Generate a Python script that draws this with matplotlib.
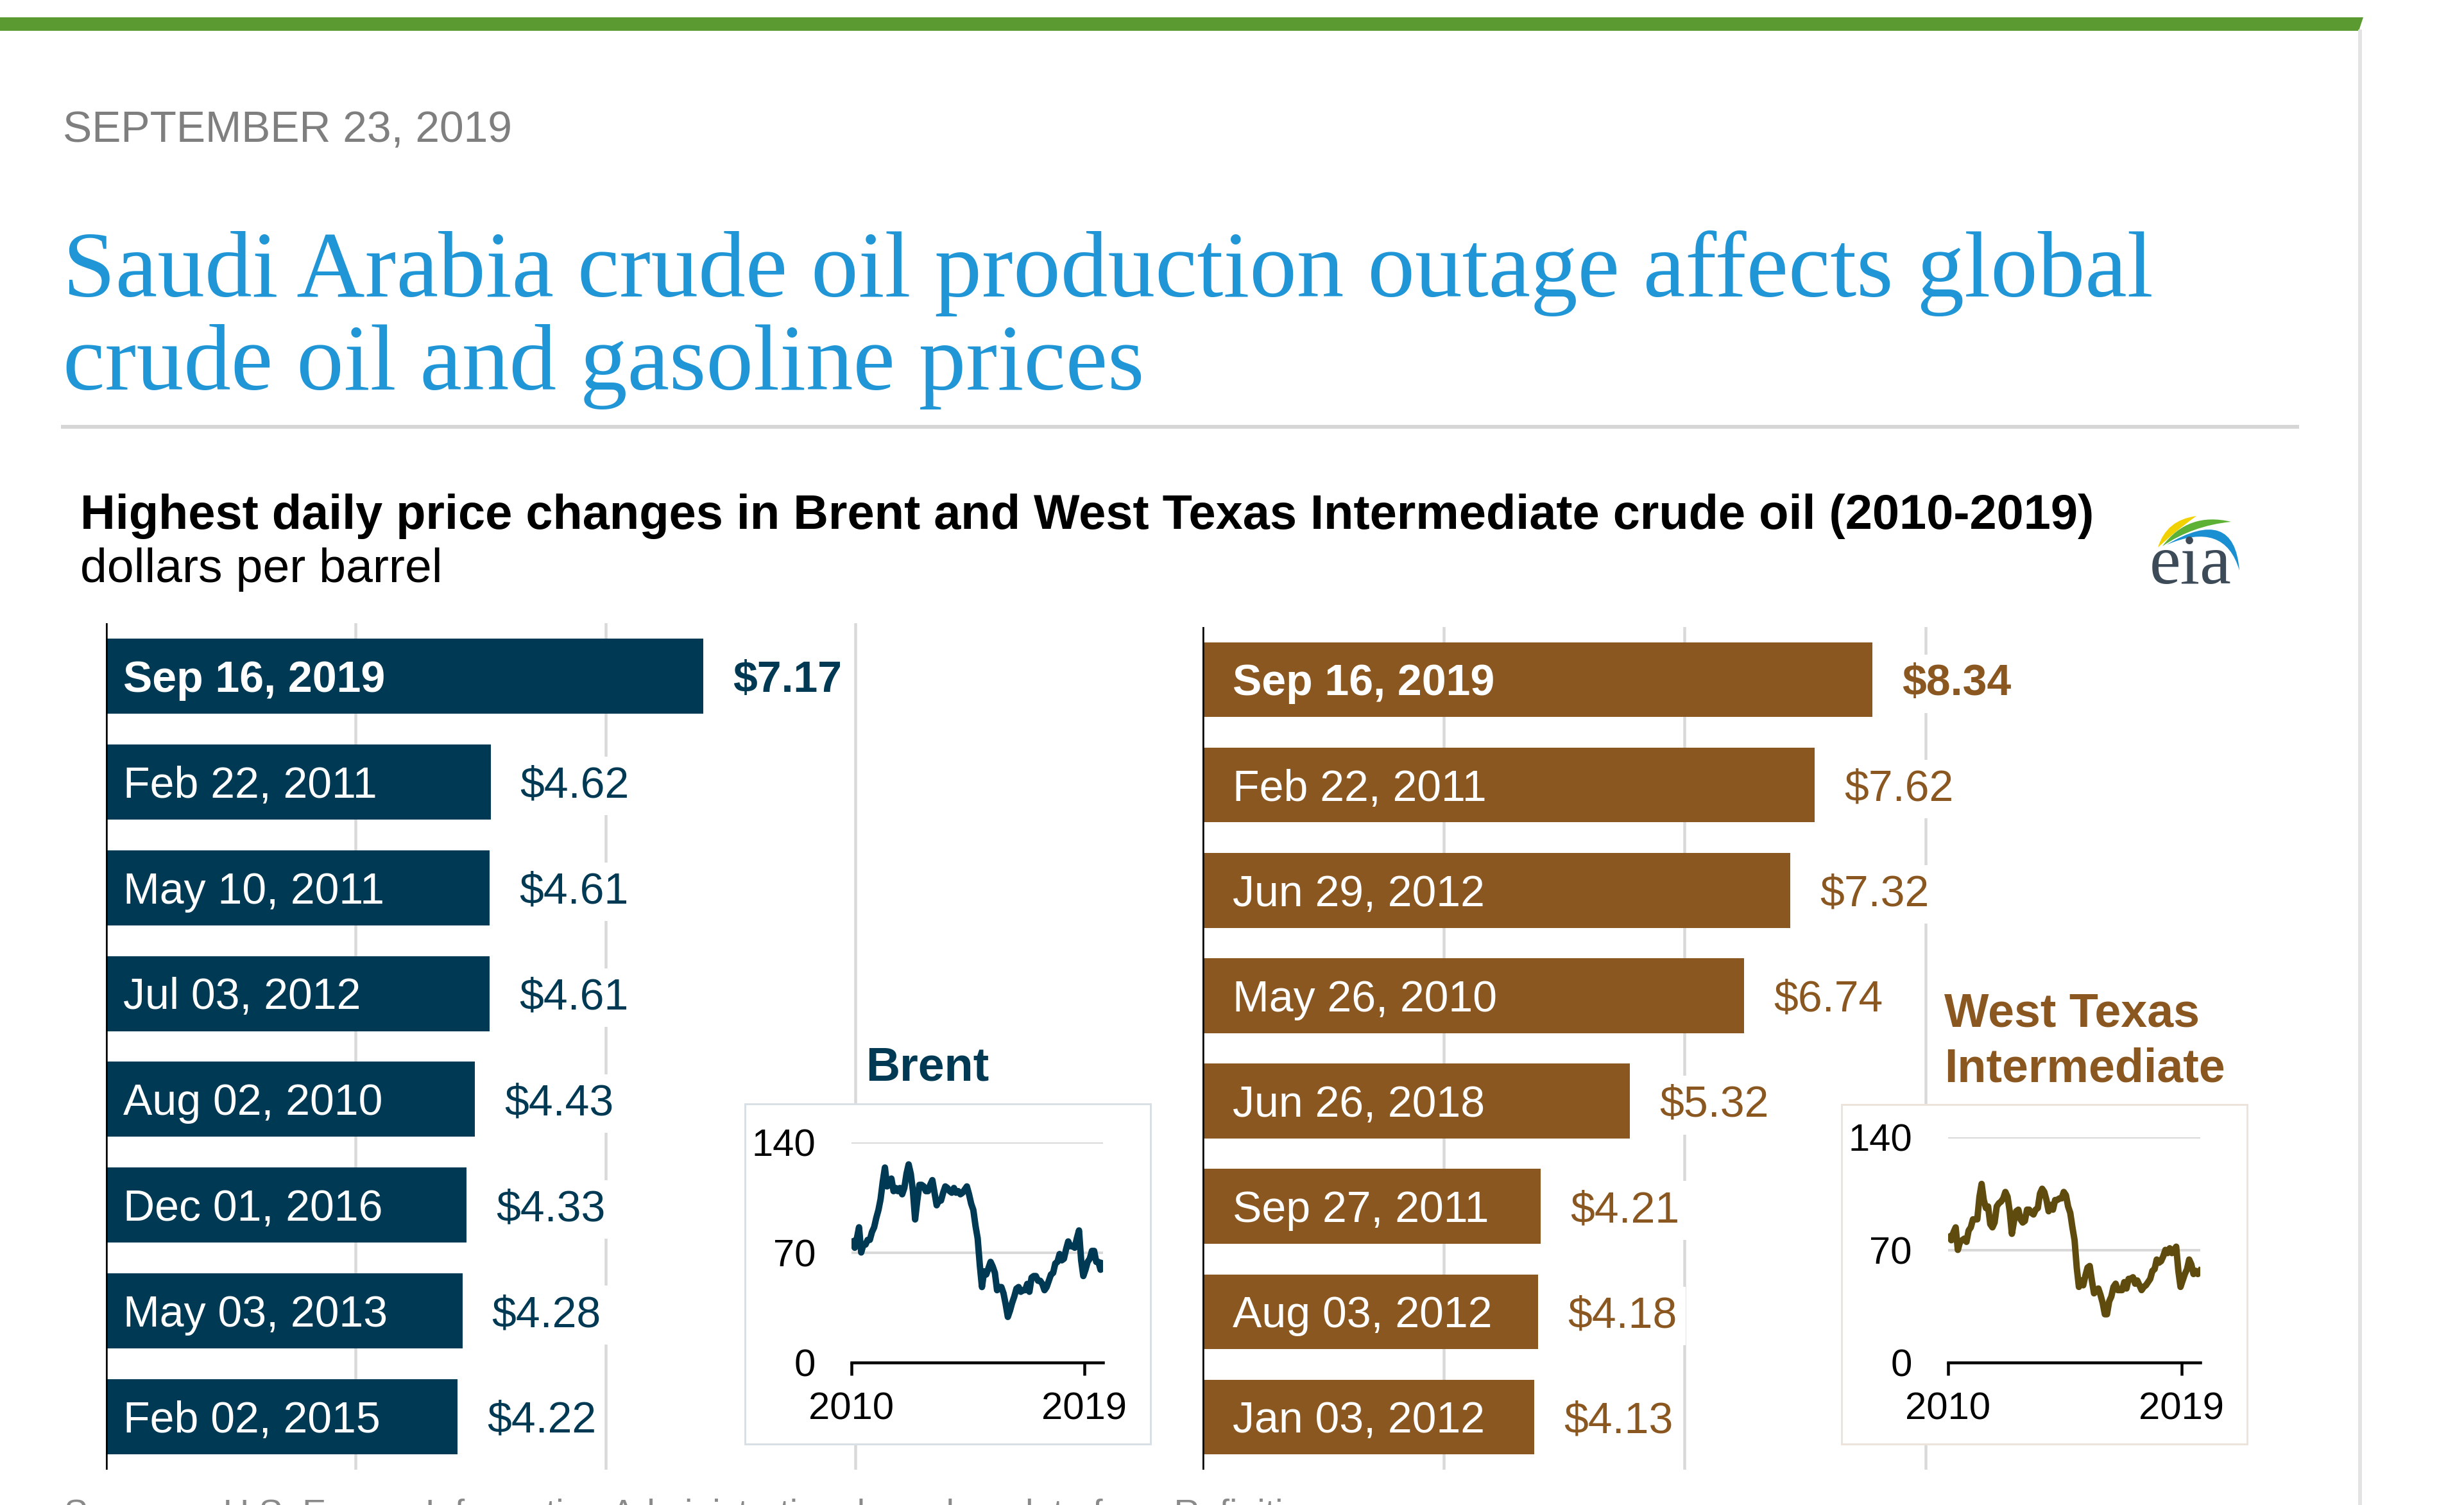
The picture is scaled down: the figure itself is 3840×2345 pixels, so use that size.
import matplotlib
matplotlib.use("Agg")
import matplotlib.pyplot as plt
from matplotlib.patches import Polygon, Rectangle, PathPatch
from matplotlib.path import Path

# ---------------- data ----------------
brent_dates = ["Sep 16, 2019", "Feb 22, 2011", "May 10, 2011", "Jul 03, 2012",
               "Aug 02, 2010", "Dec 01, 2016", "May 03, 2013", "Feb 02, 2015"]
brent_changes = [7.17, 4.62, 4.61, 4.61, 4.43, 4.33, 4.28, 4.22]

wti_dates = ["Sep 16, 2019", "Feb 22, 2011", "Jun 29, 2012", "May 26, 2010",
             "Jun 26, 2018", "Sep 27, 2011", "Aug 03, 2012", "Jan 03, 2012"]
wti_changes = [8.34, 7.62, 7.32, 6.74, 5.32, 4.21, 4.18, 4.13]

grid_values = [3, 6, 9]

# monthly spot prices, Jan 2010 - Sep 2019 (dollars per barrel)
brent_prices = [
    77, 73, 79, 86, 70, 75, 75, 78, 78, 83, 86, 92,
    97, 104, 115, 124, 112, 113, 117, 109, 111, 109, 111, 107,
    111, 120, 126, 120, 109, 91, 103, 113, 113, 112, 109, 109,
    113, 116, 108, 100, 103, 103, 108, 112, 111, 109, 108, 111,
    108, 109, 107, 108, 110, 112, 107, 101, 97, 87, 79, 62,
    48, 58, 56, 60, 64, 61, 57, 46, 48, 48, 44, 37,
    29, 33, 38, 42, 47, 48, 45, 46, 46, 50, 45, 54,
    55, 55, 52, 52, 50, 46, 48, 52, 56, 57, 63, 64,
    69, 65, 66, 72, 77, 74, 74, 73, 79, 84, 65, 55,
    59, 64, 66, 71, 71, 64, 64, 59, 63,
]
wti_prices = [
    78, 76, 81, 84, 70, 75, 76, 77, 75, 82, 84, 89,
    89, 89, 103, 111, 101, 96, 97, 86, 84, 87, 97, 99,
    100, 102, 106, 103, 94, 80, 88, 94, 95, 89, 87, 88,
    95, 95, 93, 92, 95, 96, 105, 108, 106, 101, 94, 98,
    95, 101, 101, 102, 102, 106, 104, 97, 93, 84, 76, 59,
    47, 51, 48, 54, 59, 60, 51, 43, 45, 46, 42, 37,
    30, 30, 38, 41, 47, 49, 45, 45, 45, 50, 46, 52,
    52, 53, 49, 51, 48, 45, 47, 48, 50, 52, 57, 58,
    64, 62, 63, 66, 70, 68, 71, 68, 70, 72, 57, 47,
    51, 55, 58, 64, 61, 55, 57, 55, 57,
]
start_year = 2010
inset_yticks = [0, 70, 140]
inset_xticks = [2010, 2019]

# ---------------- styling ----------------
W, H, DPI = 3840, 2345, 100
PT = 72.0 / DPI  # points per pixel
NAVY = "#003953"
BROWN = "#8b5720"
WTI_LINE = "#5f4b0e"
GRID = "#d9d9d9"
SANS = "Liberation Sans"
SERIF = "Liberation Serif"
plt.rcParams["font.family"] = [SANS, "DejaVu Sans"]

fig = plt.figure(figsize=(W / DPI, H / DPI), dpi=DPI)
fig.patch.set_facecolor("white")


def px_axes(x0, y0, x1, y1):
    return fig.add_axes([x0 / W, 1 - y1 / H, (x1 - x0) / W, (y1 - y0) / H])


# ---------------- page canvas (pixel coordinates) ----------------
cv = px_axes(0, 0, W, H)
cv.set_xlim(0, W)
cv.set_ylim(H, 0)
cv.axis("off")

cv.add_patch(Polygon([(0, 27), (3683, 27), (3676, 48), (0, 48)], closed=True,
                     facecolor="#5b9a31", edgecolor="none"))
cv.add_patch(Rectangle((3675, 46), 6, H - 46, facecolor="#e3e3e3", edgecolor="none"))
cv.add_patch(Rectangle((95, 662), 3488, 6, facecolor="#d6d6d6", edgecolor="none"))

cv.text(98, 221, "SEPTEMBER 23, 2019", fontsize=48.8, color="#7f7f7f",
        family=SANS, va="baseline", ha="left")
cv.text(98, 462, "Saudi Arabia crude oil production outage affects global",
        fontsize=106, color="#2196d6", family=SERIF, va="baseline", ha="left")
cv.text(98, 607, "crude oil and gasoline prices",
        fontsize=106, color="#2196d6", family=SERIF, va="baseline", ha="left")

cv.text(125, 824, "Highest daily price changes in Brent and West Texas Intermediate crude oil (2010-2019)",
        fontsize=54.5, fontweight="bold", color="black", va="baseline", ha="left")
cv.text(125, 907, "dollars per barrel", fontsize=54.2, color="black", va="baseline", ha="left")

# eia logo
def crescent(a, b, c_out, c_in, color):
    verts = [a, c_out, b, c_in, a, a]
    codes = [Path.MOVETO, Path.CURVE3, Path.CURVE3, Path.CURVE3, Path.CURVE3, Path.CLOSEPOLY]
    cv.add_patch(PathPatch(Path(verts, codes), facecolor=color, edgecolor="none"))

crescent((3363, 853), (3423, 804), (3376, 810), (3392, 826), "#f2d100")
crescent((3370, 851), (3477, 813), (3410, 797), (3417, 819), "#5db135")
crescent((3376, 849), (3490, 889), (3482, 786), (3467, 810), "#1a8fd1")
cv.text(3350, 909, "eia", fontsize=79, family=SERIF, color="#3d4b58", va="baseline", ha="left")

# source (cut by the bottom edge, as in the original)
cv.text(100, 2335, "Source:", fontsize=40, color="#8a8a8a", va="top", ha="left")
cv.text(348, 2335, "U.S. Energy Information Administration, based on data from Refinitiv",
        fontsize=40, color="#8a8a8a", va="top", ha="left")

# ---------------- bar panels ----------------
LABEL_FS = 49
CAP_OFF = 0.716 * LABEL_FS / 2.0  # half cap height in points


def bar_panel(x_axis, y_top, y_bot, px_per_unit, dates, values, color, label_dx):
    xmax = 10.0
    ax = px_axes(x_axis, y_top, x_axis + xmax * px_per_unit, y_bot)
    ax.set_facecolor("none")
    ax.set_xlim(0, xmax)
    ax.set_ylim(len(values) - 0.5, -0.5)
    for g in grid_values:
        ax.axvline(g, color=GRID, lw=4.5 * PT, zorder=0)
    ax.barh(range(len(values)), values, height=0.71, color=color, zorder=2)
    ax.axvline(0, color="black", lw=4.5 * PT, zorder=3)
    for s in ax.spines.values():
        s.set_visible(False)
    ax.set_xticks([])
    ax.set_yticks([])
    for i, (d, v) in enumerate(zip(dates, values)):
        weight = "bold" if i == 0 else "normal"
        ax.annotate(d, (0, i), xytext=(label_dx * PT, -CAP_OFF), textcoords="offset points",
                    color="white", fontsize=LABEL_FS, fontweight=weight,
                    va="baseline", ha="left", zorder=4)
        ax.annotate(f"${v:.2f}", (v, i), xytext=(46 * PT, -CAP_OFF), textcoords="offset points",
                    color=color, fontsize=LABEL_FS, fontweight=weight,
                    va="baseline", ha="left", zorder=4,
                    bbox=dict(facecolor="white", edgecolor="none", pad=10))
    return ax


bar_panel(165, 971, 2290, 129.8, brent_dates, brent_changes, NAVY, 27)
bar_panel(1874, 977, 2290, 125.2, wti_dates, wti_changes, BROWN, 47)

# ---------------- insets ----------------
xs = [start_year + (i + 0.5) / 12.0 for i in range(len(brent_prices))]
xs_w = [start_year + (i + 0.5) / 12.0 for i in range(len(wti_prices))]


def inset(box, area, x, y, line_color, edge_color):
    bx = px_axes(*box)
    bx.set_facecolor("white")
    bx.set_xticks([])
    bx.set_yticks([])
    for s in bx.spines.values():
        s.set_color(edge_color)
        s.set_linewidth(3 * PT)
    ax = px_axes(*area)
    ax.set_facecolor("none")
    for g in inset_yticks[1:]:
        ax.axhline(g, color=GRID, lw=4 * PT, zorder=0)
    ax.plot(x, y, color=line_color, lw=10 * PT, solid_joinstyle="round", zorder=2)
    ax.set_xlim(2010, 2019.72)
    ax.set_ylim(0, 140)
    for k in ("top", "right", "left"):
        ax.spines[k].set_visible(False)
    ax.spines["bottom"].set_color("black")
    ax.spines["bottom"].set_linewidth(4.5 * PT)
    ax.set_yticks(inset_yticks)
    ax.set_yticklabels([str(t) for t in inset_yticks])
    ax.set_xticks(inset_xticks)
    ax.set_xticklabels([str(t) for t in inset_xticks])
    ax.tick_params(axis="y", length=0, pad=56 * PT, labelsize=43)
    ax.tick_params(axis="x", direction="out", length=20 * PT, width=4.5 * PT,
                   pad=26 * PT, labelsize=43)
    return ax


inset((1161, 1720, 1793, 2250), (1327, 1780, 1719, 2123), xs, brent_prices, NAVY, "#d8e0e6")
inset((2870, 1721, 3502, 2250), (3036, 1772, 3429, 2123), xs_w, wti_prices, WTI_LINE, "#ece3da")

cv2 = px_axes(0, 0, W, H)
cv2.set_xlim(0, W)
cv2.set_ylim(H, 0)
cv2.axis("off")
cv2.set_facecolor("none")
cv2.text(1349, 1684, "Brent", fontsize=53, fontweight="bold", color=NAVY, va="baseline", ha="left")
cv2.text(3030, 1600, "West Texas", fontsize=53, fontweight="bold", color=BROWN, va="baseline", ha="left")
cv2.text(3030, 1686, "Intermediate", fontsize=53, fontweight="bold", color=BROWN, va="baseline", ha="left")

fig.savefig("out.png", dpi=DPI, facecolor="white")
